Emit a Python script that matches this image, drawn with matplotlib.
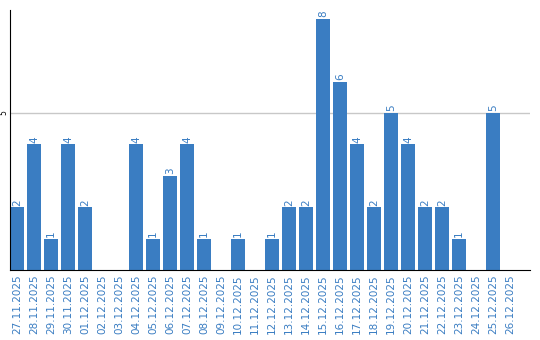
import matplotlib
matplotlib.use("Agg")
import matplotlib.pyplot as plt
import numpy as np

dates = ["27.11.2025", "28.11.2025", "29.11.2025", "30.11.2025", "01.12.2025",
         "02.12.2025", "03.12.2025", "04.12.2025", "05.12.2025", "06.12.2025",
         "07.12.2025", "08.12.2025", "09.12.2025", "10.12.2025", "11.12.2025",
         "12.12.2025", "13.12.2025", "14.12.2025", "15.12.2025", "16.12.2025",
         "17.12.2025", "18.12.2025", "19.12.2025", "20.12.2025", "21.12.2025",
         "22.12.2025", "23.12.2025", "24.12.2025", "25.12.2025", "26.12.2025"]
counts = [2, 4, 1, 4, 2, 0, 0, 4, 1, 3, 4, 1, 0, 1, 0,
          1, 2, 2, 8, 6, 4, 2, 5, 4, 2, 2, 1, 0, 5, 0]

blue = "#3a7dc2"

fig = plt.figure(figsize=(5.4, 3.4), dpi=100)
ax = fig.add_axes([10 / 540, 70 / 340, 520 / 540, 260 / 340])

x = np.arange(len(dates))
ax.bar(x, counts, width=0.82, color=blue, zorder=2)

# value labels on top of non-zero bars
for xi, c in zip(x, counts):
    if c > 0:
        ax.text(xi, c + 0.05, str(c), rotation=90, ha="center", va="bottom",
                color=blue, fontsize=7.5)

ax.set_xlim(-0.41, 30.18)
ax.set_ylim(0, 8.28)
ax.set_yticks([5])
ax.set_yticklabels(["5"], rotation=90, va="center", fontsize=5.5)
ax.axhline(5, color="#c8c8c8", linewidth=1, zorder=1)

ax.set_xticks(x)
ax.set_xticklabels(dates, rotation=90, color=blue, fontsize=7.5)
ax.tick_params(axis="x", length=0, pad=3)
ax.tick_params(axis="y", length=0, pad=1)

for s in ["top", "right"]:
    ax.spines[s].set_visible(False)
ax.spines["left"].set_color("black")
ax.spines["bottom"].set_color("black")

fig.savefig("out.png", dpi=100)
